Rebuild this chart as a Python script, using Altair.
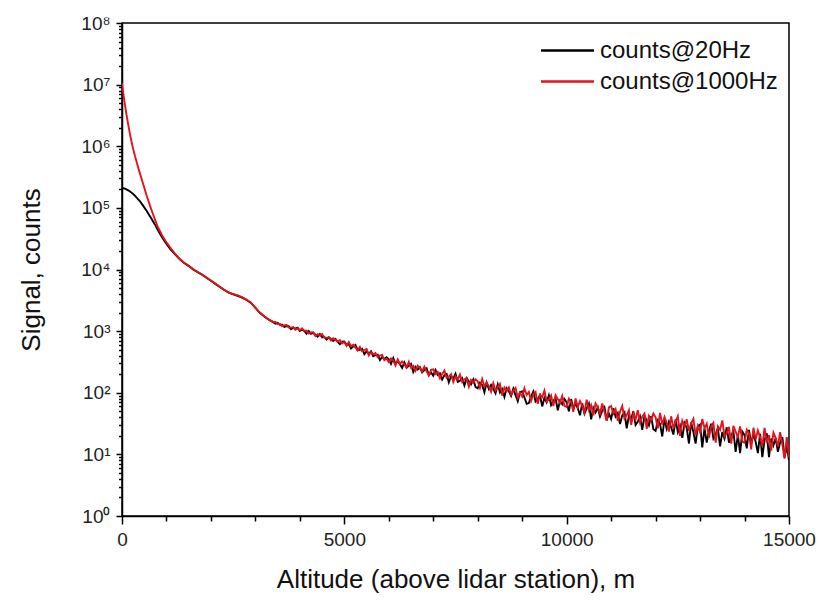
import altair as alt
import pandas as pd

# ---------------- data ----------------
near_alt = [0, 25, 50, 100, 150, 200, 250, 300, 350, 400, 450, 500, 550, 600, 650, 700,
            750, 800, 850, 900,
            1000, 1100, 1200, 1300, 1400, 1500, 1600, 1700, 1800, 1900, 2000, 2100, 2200,
            2300, 2400, 2500, 2600, 2700, 2800, 2900, 3000, 3100, 3200, 3300, 3400]

red_near = [1.05e7, 7.6e6, 5.6e6, 3.3e6, 2.04e6, 1.32e6, 9.1e5, 6.6e5, 4.9e5, 3.7e5,
            2.8e5, 2.14e5, 1.62e5, 1.26e5, 9.8e4, 7.8e4, 6.2e4, 5.0e4, 4.25e4, 3.6e4,
            2.75e4, 2.19e4, 1.78e4, 1.48e4, 1.29e4, 1.15e4, 1.02e4, 9100, 8300, 7400,
            6600, 5900, 5250, 4700, 4250, 4000, 3800, 3550, 3250, 2900, 2400, 2000,
            1740, 1550, 1410]

black_near = [2.09e5, 2.08e5, 2.07e5, 2.0e5, 1.91e5, 1.80e5, 1.68e5, 1.55e5, 1.41e5, 1.29e5,
              1.15e5, 1.02e5, 9.1e4, 7.9e4, 6.9e4, 6.0e4, 5.2e4, 4.47e4, 3.85e4, 3.35e4,
              2.6e4, 2.09e4, 1.74e4, 1.46e4, 1.27e4, 1.135e4, 1.0e4, 9050, 8250, 7350,
              6550, 5850, 5200, 4650, 4200, 3950, 3750, 3500, 3200, 2870, 2380, 1980,
              1720, 1530, 1400]

# tail: range bins of 50 m from 3450 m to 15000 m
tail_start, tail_stop, tail_step = 3450, 15000, 50

red_tail = (
    [1414, 1302, 1311, 1202, 1237, 1267, 1143, 1141, 1161, 1052, 1103]
    + [1038, 1112, 1011, 1021, 914, 955, 960, 832, 893, 850, 895, 779, 778, 796, 704, 768, 721, 677, 717, 630]
    + [665, 576, 667, 565, 598, 542, 483, 554, 470, 490, 513, 405, 458, 419, 441, 378, 399, 412, 336, 358]
    + [316, 360, 335, 277, 348, 293, 322, 288, 256, 316, 254, 274, 226, 275, 251, 223, 264, 222, 190, 235]
    + [240, 202, 218, 172, 202, 229, 173, 183, 201, 149, 185, 164, 196, 149, 165, 174, 126, 161, 146, 166]
    + [154, 120, 167, 126, 147, 127, 104, 143, 109, 123, 139, 90, 121, 106, 122, 93, 109, 120, 83, 100]
    + [87, 118, 92, 103, 74, 95, 103, 66, 93, 85, 108, 72, 77, 90, 61, 91, 79, 68, 89, 61]
    + [59, 80, 71, 49, 81, 59, 73, 61, 48, 77, 52, 63, 43, 67, 58, 46, 67, 49, 35, 58]
    + [61, 46, 54, 35, 49, 61, 38, 43, 52, 30, 46, 37, 52, 33, 41, 46, 26, 42, 36, 46]
    + [40, 26.5, 47, 30.5, 40.5, 32.5, 23.5, 41.5, 26.5, 34, 41.5, 20, 35, 28.5, 37, 24, 32, 38, 20.5, 29]
    + [23, 37.5, 26.5, 31.5, 18.5, 28.5, 32.5, 15.5, 28.5, 25, 35.5, 19.5, 22, 28, 15, 29, 23.5, 19, 28.5, 16]
    + [15.5, 25, 22, 12, 27, 17.5, 24.5, 19, 13.5, 27, 15.5, 20.5, 11.5, 22.5, 18.5, 13.5, 23, 14.5, 8.5, 19]
    + [9]
)

black_tail = (
    [1319, 1367, 1267, 1273, 1166, 1201, 1201, 1075, 1133, 1095, 1140]
    + [1004, 1057, 1007, 907, 1002, 906, 937, 875, 816, 896, 793, 811, 729, 792, 746, 693, 746, 672, 615, 672]
    + [679, 598, 614, 523, 562, 596, 492, 498, 516, 423, 470, 429, 470, 391, 408, 415, 339, 381, 353, 376]
    + [350, 294, 364, 296, 325, 291, 254, 311, 255, 274, 294, 218, 263, 238, 259, 214, 234, 249, 193, 214]
    + [189, 234, 194, 207, 164, 192, 202, 147, 184, 171, 203, 150, 157, 173, 131, 172, 153, 137, 164, 124]
    + [118, 146, 134, 102, 146, 115, 134, 115, 98, 136, 101, 115, 86, 118, 105, 89, 116, 91, 73, 103]
    + [105, 84, 66, 68, 87, 105, 72, 79, 91, 60, 83, 70, 91, 63, 74, 81, 52, 74, 65, 79]
    + [70, 50, 79, 55, 68, 56, 43, 67, 46, 56, 67, 37, 57, 48, 58, 41, 51, 58, 36, 46]
    + [37.5, 56, 41, 47, 31, 43, 48, 26.5, 42, 37.5, 50, 30, 34, 41, 25, 42, 35.5, 29.5, 41.5, 25.5]
    + [24, 35.5, 31, 19.5, 37.5, 26, 34, 27.5, 21, 37, 23, 29, 18.5, 32, 27, 15, 33, 23, 15, 28.5]
    + [30.5, 13, 26.5, 15.5, 24, 31.5, 18, 21, 26.5, 13.5, 23, 18, 27.5, 15.5, 20.5, 23.5, 11, 21, 10.5, 23.5]
    + [20.5, 12.5, 25, 15, 21, 16, 10.5, 21.5, 9, 17, 22, 9, 18, 14, 18.5, 11, 15.5, 19, 9, 13.5]
    + [8]
)

series_names = ["counts@20Hz", "counts@1000Hz"]
series_colors = ["#000000", "#e3121b"]

x_ticks = list(range(0, 15001, 1000))
y_major = [1, 10, 100, 1000, 10000, 100000, 1000000, 10000000, 100000000]
y_ticks = [m * 10 ** k for k in range(8) for m in range(1, 10)] + [100000000]

# ---------------- table ----------------
tail_alt = list(range(tail_start, tail_stop + 1, tail_step))
alt_all = near_alt + tail_alt
assert len(alt_all) == len(red_near) + len(red_tail) == len(black_near) + len(black_tail)

df_black = pd.DataFrame({"alt": alt_all, "val": black_near + black_tail, "series": series_names[0]})
df_red = pd.DataFrame({"alt": alt_all, "val": red_near + red_tail, "series": series_names[1]})

FONT = "Liberation Sans"
major_test_y = "indexof(" + str(y_major).replace(" ", "") + ", datum.value) >= 0"
sup = "['⁰','¹','²','³','⁴','⁵','⁶','⁷','⁸']"

x_enc = alt.X(
    "alt:Q",
    scale=alt.Scale(domain=[0, 15000], nice=False, zero=False),
    axis=alt.Axis(
        title="Altitude (above lidar station), m",
        values=x_ticks,
        format="d",
        labelExpr="datum.value % 5000 === 0 ? datum.label : ''",
        tickSize={"condition": {"test": "datum.value % 5000 === 0", "value": 8}, "value": 5},
        labelPadding=6,
        titlePadding=17,
        grid=False,
        labelFlush=False,
    ),
)
y_enc = alt.Y(
    "val:Q",
    scale=alt.Scale(type="log", domain=[1, 1e8], nice=False),
    axis=alt.Axis(
        title="Signal, counts",
        values=y_ticks,
        labelExpr=major_test_y + " ? '10' + " + sup + "[round(log(datum.value)/LN10)] : ''",
        tickSize={"condition": {"test": major_test_y, "value": 6}, "value": 3.5},
        labelPadding=6,
        titlePadding=36,
        grid=False,
        labelFlush=False,
    ),
)
color_enc = alt.Color(
    "series:N",
    scale=alt.Scale(domain=series_names, range=series_colors),
    legend=alt.Legend(
        title=None,
        orient="none",
        legendX=431,
        legendY=13,
        symbolType="M-2,0L2,0",
        symbolSize=702,
        symbolStrokeWidth=2.5,
        symbolFillColor="transparent",
        labelFontSize=24,
        labelFont=FONT,
        labelColor="#111",
        labelLimit=400,
        rowPadding=4,
        labelOffset=18,
    ),
)

black_layer = alt.Chart(df_black).mark_line(strokeWidth=1.9, clip=True).encode(
    x=x_enc, y=y_enc, color=color_enc, order="alt:Q"
)
red_layer = alt.Chart(df_red).mark_line(strokeWidth=1.9, clip=True).encode(
    x=x_enc, y=y_enc, color=color_enc, order="alt:Q"
)

chart = (
    alt.layer(black_layer, red_layer)
    .properties(
        width=667,
        height=493,
        background="white",
        autosize=alt.AutoSizeParams(type="none"),
        padding={"left": 122, "top": 23, "right": 29, "bottom": 85},
    )
    .configure_view(stroke="#000", strokeWidth=1.5)
    .configure_axis(
        domainColor="#000",
        domainWidth=1.5,
        tickColor="#000",
        tickWidth=1.5,
        labelFont=FONT,
        labelFontSize=19,
        labelColor="#222",
        titleFont=FONT,
        titleFontSize=26,
        titleFontWeight="normal",
        titleColor="#111",
    )
)

chart.save("out.html", embed_options={"renderer": "svg", "actions": False})
